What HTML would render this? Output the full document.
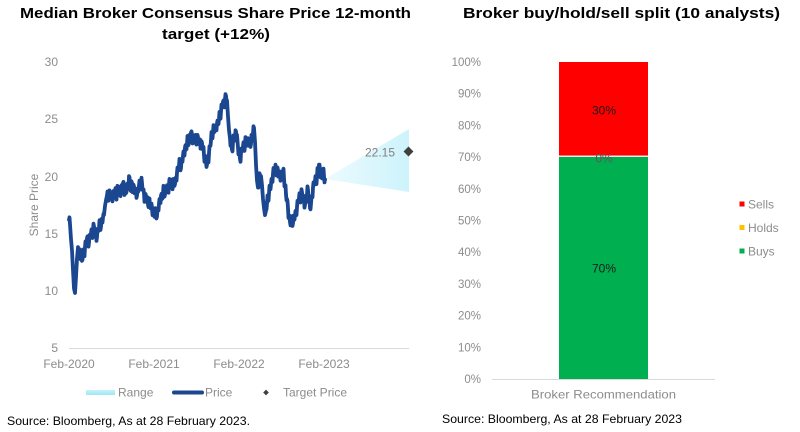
<!DOCTYPE html>
<html><head><meta charset="utf-8"><style>
html,body{margin:0;padding:0;background:#fff;}
svg{display:block;}
text{font-family:"Liberation Sans",sans-serif;}
</style></head><body>
<svg width="800" height="432" viewBox="0 0 800 432" xmlns="http://www.w3.org/2000/svg">
<defs>
<linearGradient id="cone" x1="0" y1="0" x2="1" y2="0">
<stop offset="0" stop-color="#ecfbfe"/><stop offset="1" stop-color="#cdf3fb"/>
</linearGradient>
<linearGradient id="rsw" x1="0" y1="0" x2="0" y2="1">
<stop offset="0" stop-color="#c4f1fa"/><stop offset="1" stop-color="#9ee6f5"/>
</linearGradient>
</defs>

<!-- LEFT TITLE -->
<text x="215.5" y="18" text-anchor="middle" font-size="15" font-weight="bold" fill="#000" textLength="391" lengthAdjust="spacingAndGlyphs">Median Broker Consensus Share Price 12-month</text>
<text x="216" y="39" text-anchor="middle" font-size="15" font-weight="bold" fill="#000" textLength="108" lengthAdjust="spacingAndGlyphs">target (+12%)</text>

<!-- left y ticks -->
<g font-size="12" fill="#8c8c8c" text-anchor="end">
<text x="58" y="66">30</text>
<text x="58" y="123">25</text>
<text x="58" y="181">20</text>
<text x="58" y="238">15</text>
<text x="58" y="295">10</text>
<text x="58" y="352">5</text>
</g>
<text transform="translate(38,205) rotate(-90)" text-anchor="middle" font-size="12" fill="#8c8c8c">Share Price</text>

<line x1="69" y1="348.5" x2="409" y2="348.5" stroke="#d9d9d9" stroke-width="1"/>
<g font-size="12" fill="#8c8c8c" text-anchor="middle">
<text x="69" y="368">Feb-2020</text>
<text x="154" y="368">Feb-2021</text>
<text x="239" y="368">Feb-2022</text>
<text x="324" y="368">Feb-2023</text>
</g>

<!-- cone -->
<polygon points="325,179 409,129 409,192" fill="url(#cone)"/>

<!-- price line -->
<g transform="matrix(1 0 0 -11.46 0 405.3)">
<polyline fill="none" stroke="#1b4690" stroke-width="3.8" stroke-linejoin="round" stroke-linecap="round" vector-effect="non-scaling-stroke" points="69,16.2 69.5,16.4 70,15.8 71,14.5 72,13.5 73,11.8 74,10.2 75,9.8 76,11.2 77,12.8 78,13.8 78.5,13.2 79,13.2 79.5,13.6 80,13.6 80.5,12.75 81,12.9 81.5,13.05 82,12.6 82.5,12.7 83,13.2 83.5,13.6 84,13.0 84.5,13.0 85,13.8 85.5,14.3 86,14.0 86.5,14.0 87,14.6 87.5,14.75 88,14.5 88.5,13.85 89,14.2 89.5,14.85 90,14.9 90.5,14.75 91,15.0 91.5,15.35 92,14.7 92.5,14.6 93,15.3 93.5,15.85 94,15.6 94.5,15.2 95,15.4 95.5,15.4 96,15.0 96.5,14.35 97,14.7 97.5,15.3 98,15.3 98.5,15.2 99,15.5 99.5,16.15 100,15.8 100.5,15.3 101,15.6 101.5,16.25 102,16.1 102.5,15.95 103,16.4 103.5,16.7 104,16.6 105,17.4 106,17.9 107,18.3 107.5,18.65 108,18.0 108.5,17.85 109,18.5 109.5,18.75 110,18.2 110.5,18.1 111,18.6 111.5,18.55 112,18.1 112.5,17.8 113,18.5 113.5,18.7 114,18.3 114.5,18.3 115,18.7 115.5,18.95 116,18.2 116.5,17.95 117,18.5 117.5,19.15 118,19.0 118.5,18.5 119,18.6 119.5,18.7 120,18.4 120.5,18.25 121,19.1 121.5,19.2 122,18.7 122.5,18.85 123,19.4 123.5,19.5 124,18.6 124.5,18.35 125,18.9 125.5,19.1 126,18.5 126.5,18.6 127,19.3 127.5,19.35 128,19.0 128.5,19.0 129,20.0 129.5,19.9 130,19.2 130.5,18.75 131,18.7 131.5,19.55 132,19.4 132.5,18.6 133,18.6 133.5,19.25 134,19.1 134.5,18.5 135,18.5 135.5,18.9 136,18.9 136.5,18.1 137,18.3 137.5,18.75 138,18.6 138.5,18.7 139,19.2 139.5,19.6 140,19.0 140.5,18.85 141,19.5 141.5,19.85 142,19.4 142.5,18.8 143,18.8 143.5,18.85 144,18.5 144.5,17.75 145,18.0 145.5,18.45 146,18.3 146.5,17.85 147,17.8 147.5,18.15 148,17.5 148.5,17.3 149,17.9 149.5,18.05 150,17.4 150.5,17.2 151,17.6 151.5,17.6 152,17.2 152.5,16.6 153,17.0 153.5,17.2 154,16.8 154.5,16.45 155,16.5 155.5,17.2 156,16.9 156.5,16.3 157,16.5 157.5,17.15 158,17.0 158.5,17.0 159,17.6 159.5,18.0 160,18.0 160.5,17.65 161,18.3 161.5,18.45 162,18.0 162.5,18.05 163,18.5 163.5,19.15 164,18.8 164.5,18.2 165,18.4 165.5,19.05 166,18.9 166.5,18.75 167,19.2 167.5,19.2 168,18.8 168.5,18.55 169,19.3 169.5,19.75 170,19.6 170.5,19.1 171,19.0 171.5,19.7 172,19.4 172.5,18.85 173,19.1 173.5,19.75 174,19.6 174.5,19.15 175,19.3 175.5,19.8 176,19.9 176.5,19.6 177,20.3 177.5,20.75 178,20.6 178.5,20.55 179,20.9 179.5,21.5 180,21.1 180.5,20.5 181,20.7 181.5,21.4 182,21.3 182.5,21.25 183,21.8 183.5,22.15 184,22.1 184.5,21.8 185,22.5 185.5,22.7 186,22.3 186.5,22.35 187,22.8 187.5,23.5 188,23.2 188.5,22.7 189,23.0 189.5,23.6 190,23.4 190.5,23.3 191,23.8 191.5,23.9 192,23.6 192.5,22.85 193,23.1 193.5,23.55 194,23.4 194.5,22.95 195,22.9 195.5,23.6 196,23.3 196.5,22.75 197,23.0 197.5,23.6 198,23.4 198.5,22.8 199,22.8 199.5,23.2 200,23.2 200.5,22.4 201,22.6 201.5,23.05 202,22.9 202.5,22.4 203,22.3 203.5,22.55 204,21.8 204.5,21.25 205,21.5 205.5,21.75 206,21.2 206.5,20.8 207,21.0 207.5,21.4 208,21.4 208.5,21.2 209,22.0 209.5,22.6 210,22.6 210.5,22.65 211,23.1 211.5,23.85 212,23.6 212.5,23.3 213,23.8 213.5,24.45 214,24.3 214.5,23.85 215,24.0 215.5,24.4 216,24.4 216.5,24.0 217,24.6 217.5,24.85 218,24.5 218.5,24.55 219,25.0 219.5,25.6 220,25.2 220.5,25.0 221,25.6 221.5,26.25 222,26.1 222.5,26.0 223,26.5 223.5,26.6 224,26.3 224.5,26.0 225,26.7 225.5,27.15 226,27.0 226.5,26.6 227,26.6 228,25.2 229,24.0 230,23.3 230.5,22.65 231,22.6 231.5,22.65 232,22.3 232.5,22.15 233,23.0 233.5,23.55 234,23.5 234.5,23.1 235,23.1 235.5,24.0 236,23.9 236.5,23.35 237,23.6 238,22.5 238.5,21.9 239,21.9 239.5,21.9 240,21.5 240.5,21.25 241,22.0 241.5,22.4 242,22.2 242.5,22.2 243,22.6 243.5,22.95 244,22.3 244.5,22.2 245,22.9 245.5,23.4 246,23.1 246.5,22.65 247,22.8 247.5,23.25 248,23.3 248.5,22.65 249,23.0 249.5,23.15 250,22.7 250.5,22.55 251,22.8 251.5,23.6 252,23.4 252.5,23.15 253,23.7 253.5,24.35 254,24.2 255,23.0 256,21.0 257,19.6 258,19.0 258.5,19.0 259,19.4 259.5,20.25 260,20.1 260.5,19.65 261,20.0 262,19.2 263,18.0 264,17.2 265,16.6 266,17.0 266.5,17.1 267,17.6 267.5,18.3 268,18.0 268.5,17.85 269,18.5 269.5,19.15 270,19.0 270.5,18.85 271,19.3 271.5,19.75 272,19.8 272.5,19.5 273,20.2 273.5,20.7 274,20.6 274.5,20.25 275,20.3 275.5,21.0 276,20.7 276.5,20.05 277,20.2 277.5,20.75 278,20.5 278.5,19.95 279,20.0 279.5,20.4 280,20.4 280.5,19.6 281,19.8 281.5,20.35 282,20.3 282.5,20.2 283,20.5 283.5,20.65 284,19.8 284.5,19.1 285,19.2 285.5,19.2 286,18.4 286.5,17.9 287,18.0 287.5,17.8 288,17.2 288.5,16.35 289,16.5 289.5,16.55 290,16.0 290.5,15.7 291,15.8 291.5,16.5 292,16.2 292.5,15.65 293,15.9 293.5,16.55 294,16.4 294.5,16.2 295,16.6 295.5,16.95 296,16.9 296.5,16.6 297,17.3 297.5,17.85 298,17.8 298.5,17.75 299,18.1 299.5,18.5 300,17.9 300.5,17.7 301,18.3 301.5,18.85 302,18.6 302.5,18.1 303,18.2 303.5,18.3 304,18.0 304.5,17.25 305,17.5 305.5,17.9 306,17.7 306.5,17.85 307,18.4 307.5,19.1 308,18.8 308.5,18.0 309,18.0 309.5,18.0 310,17.2 310.5,17.1 311,17.6 311.5,18.15 312,18.3 312.5,18.15 313,19.0 313.5,19.45 314,19.3 314.5,19.25 315,19.6 315.5,20.0 316,19.4 316.5,19.3 317,20.0 317.5,20.7 318,20.6 318.5,20.5 319,21.0 319.5,21.0 320,20.6 320.5,19.9 321,20.2 321.5,20.3 322,19.8 322.5,19.85 323,20.3 323.5,20.65 324,20.0 324.5,19.45 325,19.7"/>
</g>

<!-- target -->
<text x="395" y="156.5" text-anchor="end" font-size="12" fill="#808080">22.15</text>
<rect x="405" y="148" width="7" height="7" fill="#404040" transform="rotate(45 408.5 151.5)"/>

<!-- left legend -->
<rect x="86" y="390" width="29" height="5" fill="url(#rsw)"/>
<text x="118" y="396.5" font-size="12" fill="#8c8c8c">Range</text>
<line x1="174" y1="392.5" x2="202" y2="392.5" stroke="#1b4690" stroke-width="4" stroke-linecap="round"/>
<text x="205" y="396.5" font-size="12" fill="#8c8c8c">Price</text>
<rect x="264" y="390.5" width="4" height="4" fill="#404040" transform="rotate(45 266 392.5)"/>
<text x="283" y="396.5" font-size="12" fill="#8c8c8c">Target Price</text>

<text x="7" y="425" font-size="12" fill="#000" textLength="243" lengthAdjust="spacingAndGlyphs">Source: Bloomberg, As at 28 February 2023.</text>

<!-- RIGHT TITLE -->
<text x="621.5" y="18" text-anchor="middle" font-size="15" font-weight="bold" fill="#000" textLength="317" lengthAdjust="spacingAndGlyphs">Broker buy/hold/sell split (10 analysts)</text>

<g font-size="11.5" fill="#8c8c8c" text-anchor="end">
<text x="481" y="66">100%</text>
<text x="481" y="97.7">90%</text>
<text x="481" y="129.4">80%</text>
<text x="481" y="161.1">70%</text>
<text x="481" y="192.8">60%</text>
<text x="481" y="224.5">50%</text>
<text x="481" y="256.2">40%</text>
<text x="481" y="287.9">30%</text>
<text x="481" y="319.6">20%</text>
<text x="481" y="351.3">10%</text>
<text x="481" y="383">0%</text>
</g>

<rect x="559" y="62" width="89" height="93.5" fill="#ff0000"/>
<rect x="559" y="155.5" width="89" height="1.5" fill="#e6e6e6"/>
<rect x="559" y="157" width="89" height="222" fill="#00b050"/>
<line x1="492" y1="379.5" x2="715" y2="379.5" stroke="#d9d9d9" stroke-width="1"/>

<g font-size="12" text-anchor="middle">
<text x="604" y="114.5" fill="#1a1a1a">30%</text>
<text x="604" y="162.5" fill="#595959">0%</text>
<text x="604" y="272.5" fill="#1a1a1a">70%</text>
</g>

<text x="603.5" y="398.5" text-anchor="middle" font-size="12" fill="#8c8c8c" textLength="145" lengthAdjust="spacingAndGlyphs">Broker Recommendation</text>

<rect x="739.5" y="201.5" width="5" height="5" fill="#ff0000"/>
<text x="748" y="208.5" font-size="12" fill="#8c8c8c">Sells</text>
<rect x="739.5" y="225" width="5" height="5" fill="#ffc000"/>
<text x="748" y="232" font-size="12" fill="#8c8c8c">Holds</text>
<rect x="739.5" y="248.5" width="5" height="5" fill="#00b050"/>
<text x="748" y="255.5" font-size="12" fill="#8c8c8c">Buys</text>

<text x="442" y="423" font-size="12" fill="#000" textLength="240" lengthAdjust="spacingAndGlyphs">Source: Bloomberg, As at 28 February 2023</text>
</svg>
</body></html>
